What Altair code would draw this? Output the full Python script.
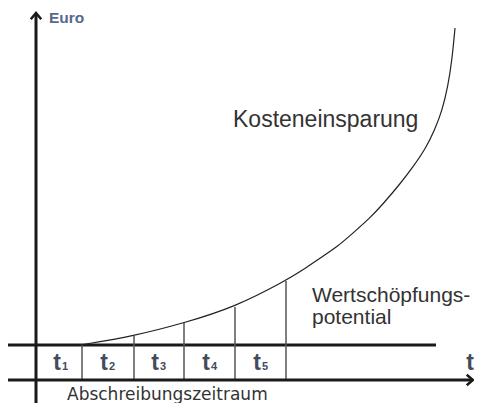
import altair as alt
import pandas as pd

# ---- data (x: time direction, y: Euro direction; origin at axes crossing) ----
yaxis_x = [0]
yaxis_bottom = [-25]
yaxis_top = [365]
xaxis_y = [0]
xaxis_left = [-40]
xaxis_right = [436]
base_y = [35]
base_left = [-40]
base_right = [400]

# period dividers (t1..t5) and their heights up to the curve
divider_x = [46, 98, 148, 199, 250]
divider_top = [35, 44, 57, 73, 99]

# cost saving curve
curve_x = [44, 98, 148, 199, 249, 267, 284, 301, 317, 334, 347, 364, 377, 390, 399, 406, 412, 416, 419]
curve_y = [35, 44, 57, 73, 99, 110, 122, 133, 147, 162, 176, 196, 213, 232, 251, 269, 294, 320, 352]

# period labels
period_t = ["t", "t", "t", "t", "t"]
period_sub = ["1", "2", "3", "4", "5"]
period_x = [21, 68, 119, 170, 221]
period_sub_x = [29, 76, 127, 178, 229]
period_y = [10, 10, 10, 10, 10]

X_DOM = [-28, 438]
Y_DOM = [-23, 372]

xs = alt.Scale(domain=X_DOM, nice=False, zero=False)
ys = alt.Scale(domain=Y_DOM, nice=False, zero=False)


def X(f="x"):
    return alt.X(f"{f}:Q", scale=xs, axis=None)


def Y(f="y"):
    return alt.Y(f"{f}:Q", scale=ys, axis=None)


AX = "#1a1a1a"
TC = "#434b5c"

vaxis = alt.Chart(pd.DataFrame({"x": yaxis_x, "y": yaxis_bottom, "y2": yaxis_top})).mark_rule(
    color=AX, strokeWidth=3).encode(x=X(), y=Y(), y2="y2:Q")

haxis = alt.Chart(pd.DataFrame({"x": xaxis_left, "x2": xaxis_right, "y": xaxis_y})).mark_rule(
    color=AX, strokeWidth=3).encode(x=X(), x2="x2:Q", y=Y())

baseline = alt.Chart(pd.DataFrame({"x": base_left, "x2": base_right, "y": base_y})).mark_rule(
    color=AX, strokeWidth=3).encode(x=X(), x2="x2:Q", y=Y())

up_arrow = alt.Chart(pd.DataFrame({"x": yaxis_x, "y": [367]})).mark_point(
    shape="M-1,1.2L0,0L1,1.2", filled=False, stroke=AX, strokeWidth=2.5, size=110, opacity=1
).encode(x=X(), y=Y())

right_arrow = alt.Chart(pd.DataFrame({"x": [437], "y": xaxis_y})).mark_point(
    shape="M-1.2,-1L0,0L-1.2,1", filled=False, stroke=AX, strokeWidth=2.5, size=110, opacity=1
).encode(x=X(), y=Y())

dividers = alt.Chart(pd.DataFrame({"x": divider_x, "y": [0] * 5, "y2": divider_top})).mark_rule(
    color="#555555", strokeWidth=1.5).encode(x=X(), y=Y(), y2="y2:Q")

curve = alt.Chart(pd.DataFrame({"x": curve_x, "y": curve_y, "o": list(range(len(curve_x)))})).mark_line(
    color="#222222", strokeWidth=1.2, interpolate="basis").encode(x=X(), y=Y(), order="o:Q")

periods = alt.Chart(pd.DataFrame({"x": period_x, "y": period_y, "t": period_t})).mark_text(
    font="Liberation Sans", fontSize=23, fontWeight="bold", color=TC, align="center",
    baseline="alphabetic").encode(x=X(), y=Y(), text="t:N")

periods_sub = alt.Chart(pd.DataFrame({"x": period_sub_x, "y": period_y, "t": period_sub})).mark_text(
    font="Liberation Sans", fontSize=11, fontWeight="bold", color=TC, align="center",
    baseline="alphabetic").encode(x=X(), y=Y(), text="t:N")

t_label = alt.Chart(pd.DataFrame({"x": [434], "y": [10], "t": ["t"]})).mark_text(
    font="Liberation Sans", fontSize=23, fontWeight="bold", color=TC, align="center",
    baseline="alphabetic").encode(x=X(), y=Y(), text="t:N")

euro = alt.Chart(pd.DataFrame({"x": [13], "y": [357], "t": ["Euro"]})).mark_text(
    font="Liberation Sans", fontSize=15.5, fontWeight="bold", color="#56688c", align="left",
    baseline="alphabetic").encode(x=X(), y=Y(), text="t:N")

kosten = alt.Chart(pd.DataFrame({"x": [197], "y": [253], "t": ["Kosteneinsparung"]})).mark_text(
    font="Liberation Sans", fontSize=23, color="#333333", align="left",
    baseline="alphabetic").encode(x=X(), y=Y(), text="t:N")

wert = alt.Chart(pd.DataFrame({"x": [276, 276], "y": [78, 56],
                               "t": ["Wertschöpfungs-", "potential"]})).mark_text(
    font="Liberation Sans", fontSize=21, color="#333333", align="left",
    baseline="alphabetic").encode(x=X(), y=Y(), text="t:N")

absch = alt.Chart(pd.DataFrame({"x": [31], "y": [-20], "t": ["Abschreibungszeitraum"]})).mark_text(
    font="DejaVu Sans", fontSize=17, color="#333333", align="left",
    baseline="alphabetic").encode(x=X(), y=Y(), text="t:N")

chart = alt.layer(
    baseline, dividers, curve, vaxis, haxis, up_arrow, right_arrow,
    periods, periods_sub, t_label, euro, kosten, wert, absch
).properties(
    width=466, height=395, autosize=alt.AutoSizeParams(type="none"), padding=0,
    background="white"
).configure_view(stroke=None)

chart.save("out.html", embed_options={"renderer": "svg", "actions": False})
